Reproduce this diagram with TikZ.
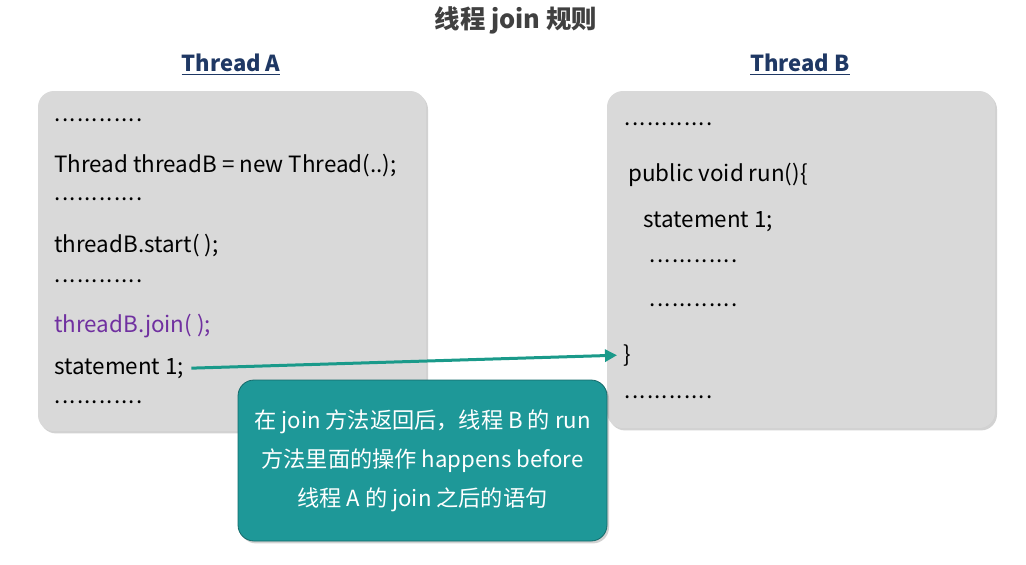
\documentclass[tikz,border=0pt]{standalone}
\usepackage{fontspec}
\setmainfont{Noto Sans CJK SC}
\usetikzlibrary{arrows.meta, shadows}
\definecolor{boxgray}{HTML}{D9D9D9}
\definecolor{tealbox}{HTML}{1E9898}
\definecolor{tealline}{HTML}{1A9A8A}
\definecolor{headblue}{HTML}{1F3864}
\definecolor{joinpurple}{HTML}{7030A0}
\definecolor{titlegray}{HTML}{404040}
\newcommand{\dotrow}{\foreach \i in {1,...,12}{\makebox[3.7pt]{.}}}

\begin{document}
\begin{tikzpicture}[x=0.5pt, y=-0.5pt,
    codebox/.style={fill=boxgray, rounded corners=8pt, minimum width=194pt,
      drop shadow={shadow xshift=1pt, shadow yshift=-1.2pt, opacity=0.35}},
    head/.style={font=\bfseries\fontsize{11}{13}\selectfont, text=headblue},
    code/.style={anchor=base west, inner sep=0pt, font=\fontsize{11.2}{13}\selectfont},
    notebox/.style={fill=tealbox, draw=tealbox!70!black, rounded corners=8pt,
      minimum width=184.5pt, minimum height=80.5pt, text=white, align=center,
      font=\fontsize{11.1}{19.5}\selectfont,
      drop shadow={shadow xshift=1pt, shadow yshift=-1.2pt, opacity=0.35}}]
    \useasboundingbox (0,0) rectangle (1026,564);
    \fill[white] (0,0) rectangle (1026,564);
    % 标题
    \node[font=\bfseries\fontsize{12.7}{15}\selectfont, text=titlegray] (title) at (516,20) {线程 join 规则};
    \node[head] (headA) at (231,65) {\underline{Thread A}};
    \node[head] (headB) at (800,65) {\underline{Thread B}};
    % 两个线程的代码框
    \node[codebox, minimum height=170pt] (boxA) at (232,261) {};
    \node[codebox, minimum height=168.5pt] (boxB) at (801,259.5) {};
    % 线程 A 的代码
    \node[code] (dotA1) at (54,121) {\dotrow};
    \node[code] (newB) at (54,172) {Thread threadB = new Thread(..);};
    \node[code] (dotA2) at (54,200) {\dotrow};
    \node[code] (startB) at (54,252) {threadB.start( );};
    \node[code] (dotA3) at (54,282) {\dotrow};
    \node[code, text=joinpurple] (joinB) at (54,332) {threadB.join( );};
    \node[code] (stmtA) at (54,374) {statement 1;};
    \node[code] (dotA4) at (54,403) {\dotrow};
    % 线程 B 的代码
    \node[code] (dotB1) at (624,125) {\dotrow};
    \node[code] (runB) at (628,181) {public void run()\{};
    \node[code] (stmtB) at (643,227) {statement 1;};
    \node[code] (dotB2) at (649,262) {\dotrow};
    \node[code] (dotB3) at (649,306) {\dotrow};
    \node[code] (brace) at (623,362) {\}};
    \node[code] (dotB4) at (624,398) {\dotrow};
    % 说明
    \node[notebox] (note) at (422.5,460.5) {在 join 方法返回后，线程 B 的 run\\方法里面的操作 happens before\\线程 A 的 join 之后的语句};
    % 箭头
    \draw[-{Triangle[length=6pt,width=6pt]}, line width=1.5pt, tealline, shorten >=3pt]
      ([xshift=3.5pt]stmtA.east) -- (brace.west);
\end{tikzpicture}
\end{document}
